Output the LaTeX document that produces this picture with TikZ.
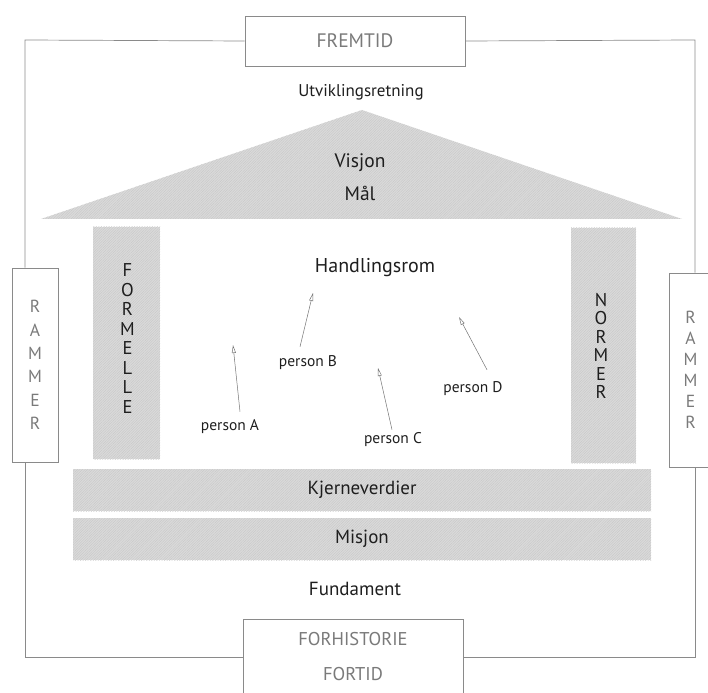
\documentclass[tikz,border=0pt]{standalone}
\usepackage{fontspec}
\setmainfont{PT Sans}
\usepackage{xcolor}
\definecolor{ink}{HTML}{1E1E1E}
\definecolor{shade}{HTML}{DADADA}
\definecolor{hatch}{HTML}{C6C6C6}
\definecolor{frameline}{HTML}{8A8A8A}
\definecolor{greytext}{HTML}{7A7A7A}
\usetikzlibrary{arrows.meta,positioning,patterns.meta}

\begin{document}
\begin{tikzpicture}[
		x=1pt, y=-1pt,
		frame/.style={draw=frameline, line width=0.7pt},
		tidsboks/.style={frame, fill=white, text=greytext, align=center, inner sep=0pt},
		felt/.style={fill=shade, postaction={pattern={Lines[angle=45, distance=1.8pt, line width=0.35pt]}, pattern color=hatch}},
		tekst/.style={text=ink, inner sep=1pt},
		pil/.style={draw=black!55, line width=0.5pt, -{Triangle[open, length=8pt, width=4pt]}}
	]
		\useasboundingbox (0,0) rectangle (708,692);

		% Frame corners
		\coordinate (tl) at (25,40);
		\coordinate (tr) at (695,40);
		\coordinate (bl) at (25,657);
		\coordinate (br) at (695,657);

		% Time and frame boxes
		\node[tidsboks, minimum width=220, minimum height=50, font=\fontsize{19.5}{22}\selectfont] (fremtid) at (355,41) {FREMTID};
		\node[tidsboks, minimum width=220, minimum height=76, font=\fontsize{18.5}{35}\selectfont] (fortid) at (353,657) {FORHISTORIE\\FORTID};
		\node[tidsboks, minimum width=46, minimum height=194, font=\fontsize{17.5}{23.4}\selectfont] (rammerV) at (35,365) {R\\A\\M\\M\\E\\R};
		\node[tidsboks, minimum width=43, minimum height=194, font=\fontsize{17.5}{21}\selectfont] (rammerH) at (690.5,370) {R\\A\\M\\M\\E\\R};

		% Outer frame
		\draw[frame] (fremtid.west) -- (tl) -- (rammerV.north -| tl);
		\draw[frame] (rammerV.south -| tl) -- (bl) -- (fortid.west);
		\draw[frame] (fremtid.east) -- (tr) -- (rammerH.north -| tr);
		\draw[frame] (rammerH.south -| tr) -- (br) -- (fortid.east);

		% Roof
		\path[felt] (362,110) -- (682,219) -- (41,219) -- cycle;
		\node[tekst, font=\fontsize{17}{20}\selectfont] (retning) at (361,92) {Utviklingsretning};
		\node[tekst, font=\fontsize{19.5}{22}\selectfont] (visjon) at (360,163) {Visjon};
		\node[tekst, font=\fontsize{19.5}{22}\selectfont] (maal) at (360,193) {Mål};

		% Pillars
		\path[felt] (93,227) rectangle (160,459);
		\path[felt] (571,228) rectangle (636,463);
		\node[tekst, align=center, font=\fontsize{18.5}{19.5}\selectfont] (formelle) at (127.5,338.5) {F\\O\\R\\M\\E\\L\\L\\E};
		\node[tekst, align=center, font=\fontsize{18.5}{18.4}\selectfont] (normer) at (601,346) {N\\O\\R\\M\\E\\R};

		% Floor bars
		\node[tekst, felt, minimum width=578, minimum height=42, font=\fontsize{19}{22}\selectfont] (kjerne) at (362,490) {Kjerneverdier};
		\node[tekst, felt, minimum width=578, minimum height=42, font=\fontsize{19}{22}\selectfont] (misjon) at (362,539) {Misjon};
		\node[tekst, font=\fontsize{19}{22}\selectfont] (fundament) at (355,589) {Fundament};

		% Room of action
		\node[tekst, font=\fontsize{20}{23}\selectfont] (rom) at (375,268) {Handlingsrom};
		\foreach \p/\x/\y in {A/230/427, B/308/363, C/393/440, D/473/389} {
			\node[tekst, font=\fontsize{15.5}{18}\selectfont] (p\p) at (\x,\y) {person \p};
		}
		\coordinate (hA) at (233,345);
		\coordinate (hB) at (313,293);
		\coordinate (hC) at (378,368);
		\coordinate (hD) at (459,317);
		\draw[pil] ([shift={(10,-7)}]pA.north) -- (hA);
		\draw[pil] ([shift={(-8,-8)}]pB.north) -- (hB);
		\draw[pil] ([shift={(-1,-2)}]pC.north) -- (hC);
		\draw[pil] ([shift={(14,-11)}]pD.north) -- (hD);
	\end{tikzpicture}
\end{document}
